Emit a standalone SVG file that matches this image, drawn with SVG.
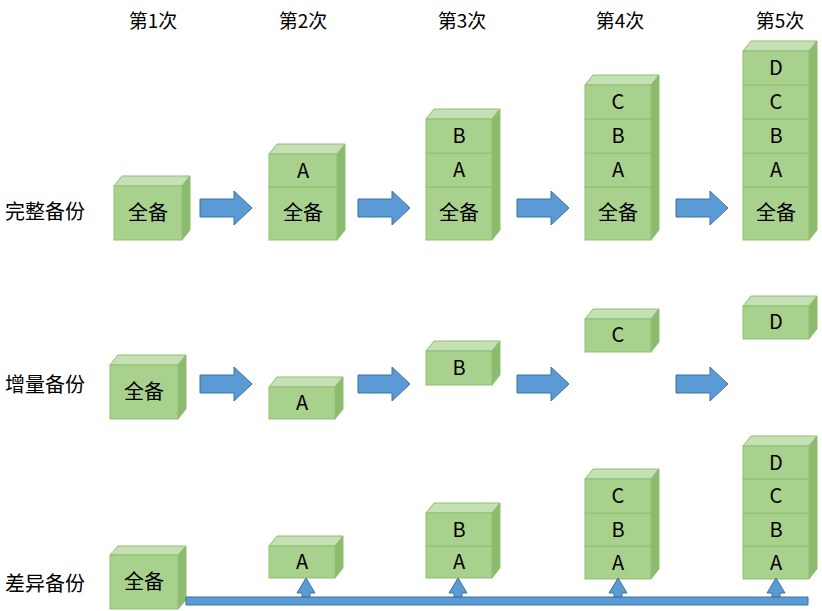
<svg xmlns="http://www.w3.org/2000/svg" width="822" height="611" viewBox="0 0 822 611">
<style>
.f{fill:#a9d18e;stroke:#8fbf70;stroke-width:1}
.t{fill:#c5e0b4;stroke:#8fbf70;stroke-width:1}
.s{fill:#8dbb6e;stroke:#8fbf70;stroke-width:1}
.lb{font-family:"Noto Sans CJK SC","Liberation Sans",sans-serif;font-size:20px;fill:#000;text-anchor:middle}
.hd{font-family:"Noto Sans CJK SC","Liberation Sans",sans-serif;font-size:19px;fill:#000;text-anchor:middle}
.rl{font-family:"Noto Sans CJK SC",sans-serif;font-size:20px;fill:#000}
.ar{fill:#5b9bd5;stroke:#41719c;stroke-width:1}
</style>
<defs>
<path id="ra" d="M0,-9 H34 V-17 L52,0 L34,17 V9 H0 Z" class="ar"/>
</defs>
<g id="headers">
<text class="hd" x="153" y="28">第1次</text>
<text class="hd" x="303" y="28">第2次</text>
<text class="hd" x="462" y="28">第3次</text>
<text class="hd" x="620" y="28">第4次</text>
<text class="hd" x="780" y="28">第5次</text>
</g>
<g id="rowlabels">
<text class="rl" x="5" y="219">完整备份</text>
<text class="rl" x="5" y="392">增量备份</text>
<text class="rl" x="5" y="591">差异备份</text>
</g>
<g id="r1c1">
<polygon class="t" points="114,186 122,176 190,176 182,186"/>
<polygon class="s" points="182,186 190,176 190,230 182,240"/>
<rect class="f" x="114" y="186" width="68" height="54"/>
<text class="lb" x="148" y="220">全备</text>
</g>
<g id="r1c2">
<polygon class="t" points="269,154 277,144 345,144 337,154"/>
<polygon class="s" points="337,154 345,144 345,230 337,240"/>
<rect class="f" x="269" y="187" width="68" height="53"/>
<rect class="f" x="269" y="154" width="68" height="33"/>
<text class="lb" x="303" y="220">全备</text>
<text class="lb" x="303" y="178">A</text>
</g>
<g id="r1c3">
<polygon class="t" points="426,119 434,109 500,109 492,119"/>
<polygon class="s" points="492,119 500,109 500,230 492,240"/>
<rect class="f" x="426" y="187" width="66" height="53"/>
<rect class="f" x="426" y="153" width="66" height="34"/>
<rect class="f" x="426" y="119" width="66" height="34"/>
<text class="lb" x="459" y="220">全备</text>
<text class="lb" x="459" y="177">A</text>
<text class="lb" x="459" y="143">B</text>
</g>
<g id="r1c4">
<polygon class="t" points="585,85 593,75 659,75 651,85"/>
<polygon class="s" points="651,85 659,75 659,230 651,240"/>
<rect class="f" x="585" y="187" width="66" height="53"/>
<rect class="f" x="585" y="153" width="66" height="34"/>
<rect class="f" x="585" y="119" width="66" height="34"/>
<rect class="f" x="585" y="85" width="66" height="34"/>
<text class="lb" x="618" y="220">全备</text>
<text class="lb" x="618" y="177">A</text>
<text class="lb" x="618" y="143">B</text>
<text class="lb" x="618" y="109">C</text>
</g>
<g id="r1c5">
<polygon class="t" points="743,51 751,41 817,41 809,51"/>
<polygon class="s" points="809,51 817,41 817,230 809,240"/>
<rect class="f" x="743" y="187" width="66" height="53"/>
<rect class="f" x="743" y="153" width="66" height="34"/>
<rect class="f" x="743" y="119" width="66" height="34"/>
<rect class="f" x="743" y="85" width="66" height="34"/>
<rect class="f" x="743" y="51" width="66" height="34"/>
<text class="lb" x="776" y="220">全备</text>
<text class="lb" x="776" y="177">A</text>
<text class="lb" x="776" y="143">B</text>
<text class="lb" x="776" y="109">C</text>
<text class="lb" x="776" y="75">D</text>
</g>
<g id="r2c1">
<polygon class="t" points="110,365 118,355 186,355 178,365"/>
<polygon class="s" points="178,365 186,355 186,409 178,419"/>
<rect class="f" x="110" y="365" width="68" height="54"/>
<text class="lb" x="144" y="399">全备</text>
</g>
<g id="r2c2">
<polygon class="t" points="269,387 277,377 343,377 335,387"/>
<polygon class="s" points="335,387 343,377 343,409 335,419"/>
<rect class="f" x="269" y="387" width="66" height="32"/>
<text class="lb" x="302" y="410">A</text>
</g>
<g id="r2c3">
<polygon class="t" points="426,351 434,341 500,341 492,351"/>
<polygon class="s" points="492,351 500,341 500,375 492,385"/>
<rect class="f" x="426" y="351" width="66" height="34"/>
<text class="lb" x="459" y="375">B</text>
</g>
<g id="r2c4">
<polygon class="t" points="585,319 593,309 659,309 651,319"/>
<polygon class="s" points="651,319 659,309 659,342 651,352"/>
<rect class="f" x="585" y="319" width="66" height="33"/>
<text class="lb" x="618" y="342">C</text>
</g>
<g id="r2c5">
<polygon class="t" points="743,306 751,296 817,296 809,306"/>
<polygon class="s" points="809,306 817,296 817,329 809,339"/>
<rect class="f" x="743" y="306" width="66" height="33"/>
<text class="lb" x="776" y="329">D</text>
</g>
<g id="r3c1">
<polygon class="t" points="110,555 118,546 186,546 178,555"/>
<polygon class="s" points="178,555 186,546 186,600 178,609"/>
<rect class="f" x="110" y="555" width="68" height="54"/>
<text class="lb" x="144" y="589">全备</text>
</g>
<g id="r3c2">
<polygon class="t" points="269,546 277,536 343,536 335,546"/>
<polygon class="s" points="335,546 343,536 343,568 335,578"/>
<rect class="f" x="269" y="546" width="66" height="32"/>
<text class="lb" x="302" y="569">A</text>
</g>
<g id="r3c3">
<polygon class="t" points="426,513 434,503 500,503 492,513"/>
<polygon class="s" points="492,513 500,503 500,568 492,578"/>
<rect class="f" x="426" y="546" width="66" height="32"/>
<rect class="f" x="426" y="513" width="66" height="33"/>
<text class="lb" x="459" y="569">A</text>
<text class="lb" x="459" y="537">B</text>
</g>
<g id="r3c4">
<polygon class="t" points="585,479 593,469 659,469 651,479"/>
<polygon class="s" points="651,479 659,469 659,569 651,579"/>
<rect class="f" x="585" y="546" width="66" height="33"/>
<rect class="f" x="585" y="513" width="66" height="33"/>
<rect class="f" x="585" y="479" width="66" height="34"/>
<text class="lb" x="618" y="570">A</text>
<text class="lb" x="618" y="537">B</text>
<text class="lb" x="618" y="503">C</text>
</g>
<g id="r3c5">
<polygon class="t" points="743,446 751,436 817,436 809,446"/>
<polygon class="s" points="809,446 817,436 817,569 809,579"/>
<rect class="f" x="743" y="546" width="66" height="33"/>
<rect class="f" x="743" y="513" width="66" height="33"/>
<rect class="f" x="743" y="479" width="66" height="34"/>
<rect class="f" x="743" y="446" width="66" height="33"/>
<text class="lb" x="776" y="570">A</text>
<text class="lb" x="776" y="537">B</text>
<text class="lb" x="776" y="503">C</text>
<text class="lb" x="776" y="470">D</text>
</g>
<g id="connectors">
<use href="#ra" x="200" y="208"/>
<use href="#ra" x="358" y="208"/>
<use href="#ra" x="517" y="208"/>
<use href="#ra" x="676" y="208"/>
<use href="#ra" x="200" y="384"/>
<use href="#ra" x="358" y="384"/>
<use href="#ra" x="517" y="384"/>
<use href="#ra" x="676" y="384"/>
<path class="ar" d="M186,597 H808 V605 H186 Z"/>
<path class="ar" d="M302,597 V593 H297 L306,578 L315,593 H310 V597 Z"/>
<path class="ar" d="M454,597 V593 H449 L458,578 L467,593 H462 V597 Z"/>
<path class="ar" d="M614,597 V593 H609 L618,578 L627,593 H622 V597 Z"/>
<path class="ar" d="M772,597 V593 H767 L776,578 L785,593 H780 V597 Z"/>
</g>
</svg>
